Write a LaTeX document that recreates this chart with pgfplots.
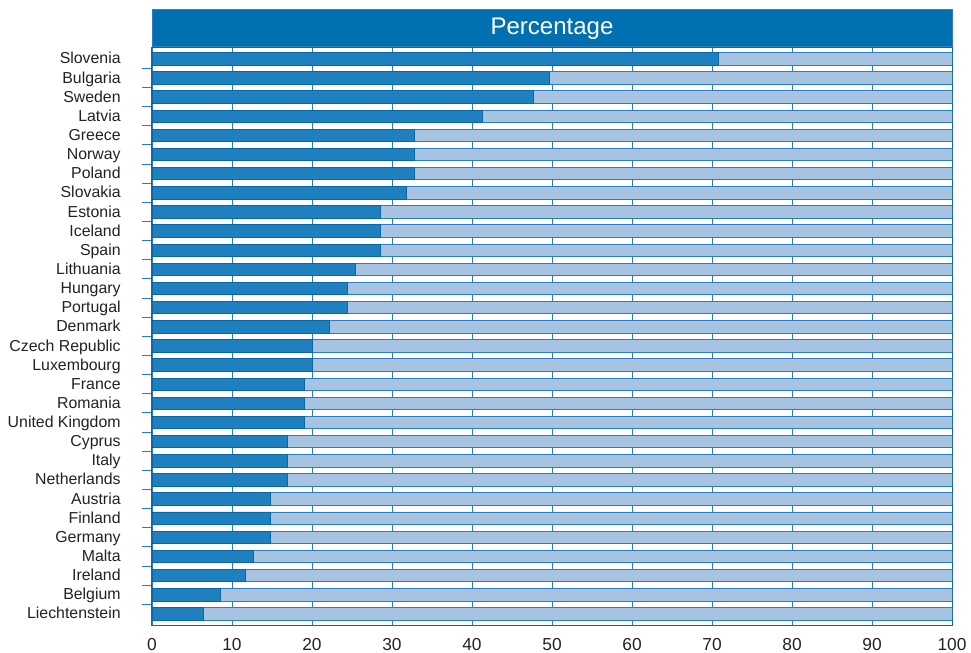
\documentclass[border=0pt]{standalone}
\usepackage{pgfplots}
\pgfplotsset{compat=1.18}
\usepackage{pgfplotstable}
\usetikzlibrary{calc}
\usepackage{fontspec}
\setmainfont{Liberation Sans}
\definecolor{titleblue}{HTML}{0070B0}
\definecolor{darkbar}{HTML}{1E80BE}
\definecolor{darkedge}{HTML}{0B66A6}
\definecolor{lightbar}{HTML}{A6C4E2}
\definecolor{lightedge}{HTML}{2E7DBD}
\definecolor{gridblue}{HTML}{2A7DBE}
\definecolor{txt}{HTML}{222222}

\pgfplotstableread[col sep=comma]{
idx,country,val,rest
0,Slovenia,70.8,29.2
1,Bulgaria,49.7,50.3
2,Sweden,47.7,52.3
3,Latvia,41.3,58.7
4,Greece,32.8,67.2
5,Norway,32.8,67.2
6,Poland,32.8,67.2
7,Slovakia,31.8,68.2
8,Estonia,28.6,71.4
9,Iceland,28.6,71.4
10,Spain,28.6,71.4
11,Lithuania,25.4,74.6
12,Hungary,24.4,75.6
13,Portugal,24.4,75.6
14,Denmark,22.2,77.8
15,Czech Republic,20.1,79.9
16,Luxembourg,20.1,79.9
17,France,19.1,80.9
18,Romania,19.1,80.9
19,United Kingdom,19.1,80.9
20,Cyprus,16.9,83.1
21,Italy,16.9,83.1
22,Netherlands,16.9,83.1
23,Austria,14.8,85.2
24,Finland,14.8,85.2
25,Germany,14.8,85.2
26,Malta,12.7,87.3
27,Ireland,11.7,88.3
28,Belgium,8.5,91.5
29,Liechtenstein,6.4,93.6
}\data

\begin{document}
\begin{tikzpicture}
\begin{axis}[
  name=a,
  scale only axis,
  width=600pt, height=433.5pt,
  xbar stacked,
  bar width=0.65,
  y dir=reverse,
  xmin=0, xmax=100,
  ymin=-0.62, ymax=29.58,
  xtick={0,10,...,100},
  ytick={0,1,...,29},
  yticklabels from table={\data}{country},
  minor ytick={0.5,1.5,...,28.5},
  major tick length=0pt,
  minor tick length=7.5pt,
  tick align=outside,
  tick pos=left,
  minor tick style={gridblue, line width=0.75pt},
  xmajorgrids,
  major grid style={gridblue, line width=0.6pt},
  axis line style={darkedge, line width=0.75pt},
  /pgf/number format/assume math mode=true,
  yticklabel style={font=\fontsize{11.9}{13}\selectfont, text=txt, xshift=-20pt, yshift=-1.2pt,
    text height=0.72em, text depth=0.2em},
  xticklabel style={font=\fontsize{13}{15}\selectfont, text=txt, inner sep=0pt,
    anchor=north, yshift=-9.5pt},
  every axis title shift=0pt,
  title={Percentage},
  title style={at={(0.5,1)}, anchor=south, yshift=0pt, fill=titleblue, draw=lightedge,
    text=white, minimum width=600pt, minimum height=27.75pt, inner sep=0pt,
    font=\fontsize{18}{20}\selectfont},
]
\addplot[fill=darkbar, draw=darkedge, line width=0.7pt] table[x=val, y=idx] {\data};
\addplot[fill=lightbar, draw=lightedge, line width=0.7pt] table[x=rest, y=idx] {\data};
\end{axis}
\pgfresetboundingbox
\path ($(a.south west)+(-114pt,-21pt)$) rectangle ($(a.north east)+(14.25pt,35.25pt)$);
\end{tikzpicture}
\end{document}
